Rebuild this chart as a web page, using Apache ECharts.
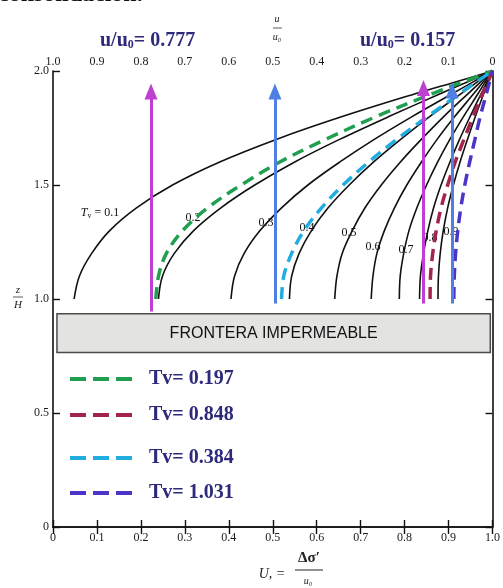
<!DOCTYPE html>
<html>
<head>
<meta charset="utf-8">
<script src="https://cdn.jsdelivr.net/npm/echarts@6/dist/echarts.min.js"></script>
<style>
  html, body { margin: 0; padding: 0; background: #fff; }
  #main { width: 503px; height: 588px; }
</style>
</head>
<body>
<div id="main"></div>
<script>
// z/H levels (top drained boundary at 2.0)
var zH = [1.0, 1.1, 1.2, 1.3, 1.4, 1.5, 1.6, 1.7, 1.8, 1.9, 1.95, 2.0];

// isocronas Tv (negras), valores Uz
var tvNames = ['0.1', '0.2', '0.3', '0.4', '0.5', '0.6', '0.7', '0.8', '0.9'];
var uzT01 = [0.048, 0.060, 0.088, 0.129, 0.190, 0.272, 0.378, 0.508, 0.658, 0.824, 0.912, 1.0];
var uzT02 = [0.240, 0.249, 0.276, 0.320, 0.382, 0.459, 0.549, 0.652, 0.764, 0.881, 0.940, 1.0];
var uzT03 = [0.405, 0.413, 0.435, 0.471, 0.520, 0.580, 0.652, 0.731, 0.817, 0.908, 0.954, 1.0];
var uzT04 = [0.538, 0.543, 0.560, 0.588, 0.626, 0.674, 0.729, 0.791, 0.857, 0.928, 0.964, 1.0];
var uzT05 = [0.641, 0.646, 0.658, 0.681, 0.710, 0.747, 0.790, 0.838, 0.889, 0.944, 0.972, 1.0];
var uzT06 = [0.724, 0.728, 0.737, 0.754, 0.777, 0.805, 0.838, 0.874, 0.914, 0.957, 0.978, 1.0];
var uzT07 = [0.788, 0.790, 0.798, 0.810, 0.828, 0.850, 0.875, 0.903, 0.934, 0.967, 0.983, 1.0];
var uzT08 = [0.834, 0.836, 0.843, 0.853, 0.866, 0.883, 0.903, 0.925, 0.949, 0.974, 0.987, 1.0];
var uzT09 = [0.876, 0.877, 0.881, 0.888, 0.898, 0.911, 0.926, 0.943, 0.961, 0.980, 0.990, 1.0];

// isocronas a trazos (leyenda)
var dashNames = ['Tv= 0.197', 'Tv= 0.848', 'Tv= 0.384', 'Tv= 1.031'];
var uzD0197 = [0.234, 0.240, 0.258, 0.295, 0.352, 0.428, 0.515, 0.620, 0.735, 0.862, 0.930, 1.0];
var uzD0848 = [0.858, 0.859, 0.864, 0.872, 0.883, 0.898, 0.915, 0.935, 0.956, 0.977, 0.989, 1.0];
var uzD0384 = [0.520, 0.525, 0.543, 0.571, 0.611, 0.660, 0.718, 0.782, 0.852, 0.925, 0.962, 1.0];
var uzD1031 = [0.912, 0.913, 0.916, 0.921, 0.928, 0.937, 0.948, 0.960, 0.972, 0.986, 0.993, 1.0];

// flechas (posicion en Uz, base y punta en z/H)
var arrowUz = [0.223, 0.505, 0.843, 0.908];
var arrowFrom = [0.945, 0.98, 0.98, 0.98];
var arrowTo = [1.91, 1.91, 1.925, 1.915];

// etiquetas de ejes
var bottomLabels = ['0', '0.1', '0.2', '0.3', '0.4', '0.5', '0.6', '0.7', '0.8', '0.9', '1.0'];
var topLabels = ['1.0', '0.9', '0.8', '0.7', '0.6', '0.5', '0.4', '0.3', '0.2', '0.1', '0'];
var yLabels = ['0', '0.5', '1.0', '1.5', '2.0'];

var chart = echarts.init(document.getElementById('main'));

function pts(uz) {
  return uz.map(function (v, i) { return [v, zH[i]]; });
}

var blackSets = [uzT01, uzT02, uzT03, uzT04, uzT05, uzT06, uzT07, uzT08, uzT09];
var dashSets = [uzD0197, uzD0848, uzD0384, uzD1031];
var dashColors = ['#1f9f4f', '#a3244f', '#22ade0', '#4a35c8'];
var arrowColors = ['#bf3fd3', '#4f7fe2', '#bf3fd3', '#4f7fe2'];

var series = [];
blackSets.forEach(function (s, i) {
  series.push({
    name: 'T' + tvNames[i],
    type: 'line',
    data: pts(s),
    symbol: 'none',
    smooth: 0.35,
    lineStyle: { color: '#111', width: 1.6 },
    silent: true
  });
});
dashSets.forEach(function (s, i) {
  series.push({
    name: dashNames[i],
    type: 'line',
    data: pts(s),
    symbol: 'none',
    smooth: 0.35,
    itemStyle: { color: dashColors[i] },
    lineStyle: { color: dashColors[i], width: 3.5, type: [12, 7] },
    silent: true
  });
});

// flechas + caja de frontera
series.push({
  name: 'marcas',
  type: 'line',
  data: [],
  silent: true,
  markLine: {
    symbol: ['none', 'triangle'],
    symbolSize: [13, 16],
    label: { show: false },
    animation: false,
    data: arrowUz.map(function (x, i) {
      return [
        { coord: [x, arrowFrom[i]], lineStyle: { color: arrowColors[i], width: 3, type: 'solid' }, itemStyle: { color: arrowColors[i] } },
        { coord: [x, arrowTo[i]] }
      ];
    })
  },
  markArea: {
    silent: true,
    itemStyle: { color: '#e3e3e1', borderColor: '#4a4a4a', borderWidth: 1.5 },
    label: {
      show: true, position: 'inside', color: '#111',
      fontFamily: 'Liberation Sans', fontSize: 16,
      formatter: 'FRONTERA IMPERMEABLE'
    },
    data: [[{ coord: [0.009, 0.935] }, { coord: [0.995, 0.765] }]]
  }
});

var legendTops = [369, 405, 448, 483];
var legends = dashNames.map(function (n, i) {
  return {
    data: [n],
    left: 68,
    top: legendTops[i],
    padding: 0,
    itemWidth: 62,
    itemHeight: 14,
    selectedMode: false,
    itemStyle: { opacity: 0 },
    lineStyle: { width: 4, type: [16, 7] },
    textStyle: {
      color: '#2d2a7b', fontFamily: 'Liberation Serif', fontWeight: 'bold',
      fontSize: 20, padding: [0, 0, 0, 12]
    }
  };
});

var axisFont = { color: '#1a1a1a', fontFamily: 'Liberation Serif', fontSize: 12 };
var axLine = { show: true, lineStyle: { color: '#111', width: 1.6 } };
var axTick = { show: true, inside: true, length: 7, lineStyle: { color: '#111', width: 1.4 } };

var navy = '#2d2a7b';
var option = {
  animation: false,
  backgroundColor: '#fff',
  legend: legends,
  grid: { left: 53, right: 6, top: 71, bottom: 61 },
  xAxis: [
    {
      type: 'value', position: 'bottom', min: 0, max: 1, interval: 0.1,
      axisLine: axLine, axisTick: axTick, splitLine: { show: false },
      axisLabel: Object.assign({ margin: 5, formatter: function (v) { return bottomLabels[Math.round(v * 10)]; } }, axisFont)
    },
    {
      type: 'value', position: 'top', min: 0, max: 1, interval: 0.1, inverse: true,
      axisLine: axLine, axisTick: axTick, splitLine: { show: false },
      axisLabel: Object.assign({ margin: 3, formatter: function (v) { return topLabels[Math.round((1 - v) * 10)]; } }, axisFont)
    }
  ],
  yAxis: [
    {
      type: 'value', position: 'left', min: 0, max: 2, interval: 0.5,
      axisLine: axLine, axisTick: axTick, splitLine: { show: false },
      axisLabel: Object.assign({ margin: 4, formatter: function (v) { return yLabels[Math.round(v * 2)]; } }, axisFont)
    },
    {
      type: 'value', position: 'right', min: 0, max: 2, interval: 0.5,
      axisLine: axLine, axisTick: axTick, splitLine: { show: false },
      axisLabel: { show: false }
    }
  ],
  graphic: [
    // titulo cortado
    { type: 'text', left: -2, top: -17, style: { text: 'consolidación.', font: 'bold 24px "Liberation Serif"', fill: '#111' } },
    // valores u/u0
    { type: 'text', left: 100, top: 31, style: { text: 'u/u{s|0}= 0.777', font: 'bold 20px "Liberation Serif"', fill: navy,
        rich: { s: { font: 'bold 12px "Liberation Serif"', fill: navy, padding: [8, 0, 0, 0] } } } },
    { type: 'text', left: 360, top: 31, style: { text: 'u/u{s|0}= 0.157', font: 'bold 20px "Liberation Serif"', fill: navy,
        rich: { s: { font: 'bold 12px "Liberation Serif"', fill: navy, padding: [8, 0, 0, 0] } } } },
    // u/u0 titulo eje superior
    { type: 'text', x: 277, y: 19, style: { text: 'u', font: 'italic 10px "Liberation Serif"', fill: '#222', align: 'center', verticalAlign: 'middle' } },
    { type: 'line', shape: { x1: 273, y1: 28, x2: 282, y2: 28 }, style: { stroke: '#333', lineWidth: 0.8 } },
    { type: 'text', x: 277, y: 37, style: { text: 'u₀', font: 'italic 10px "Liberation Serif"', fill: '#222', align: 'center', verticalAlign: 'middle' } },
    // z/H
    { type: 'text', x: 18, y: 290, style: { text: 'z', font: 'italic 11px "Liberation Serif"', fill: '#222', align: 'center', verticalAlign: 'middle' } },
    { type: 'line', shape: { x1: 13, y1: 297, x2: 23, y2: 297 }, style: { stroke: '#333', lineWidth: 0.8 } },
    { type: 'text', x: 18, y: 305, style: { text: 'H', font: 'italic 11px "Liberation Serif"', fill: '#222', align: 'center', verticalAlign: 'middle' } },
    // Uz = dsigma'/u0
    { type: 'text', x: 272, y: 574, style: { text: 'U, =', font: 'italic 14px "Liberation Serif"', fill: '#222', align: 'center', verticalAlign: 'middle' } },
    { type: 'text', x: 309, y: 558, style: { text: 'Δσ′', font: 'bold 15px "Liberation Serif"', fill: '#222', align: 'center', verticalAlign: 'middle' } },
    { type: 'line', shape: { x1: 295, y1: 570, x2: 323, y2: 570 }, style: { stroke: '#222', lineWidth: 1 } },
    { type: 'text', x: 308, y: 581, style: { text: 'u₀', font: 'italic 10px "Liberation Serif"', fill: '#222', align: 'center', verticalAlign: 'middle' } },
    // etiquetas de isocronas
    { type: 'text', x: 100, y: 213, style: { text: '{i|T}{s|v} = 0.1', font: '12px "Liberation Serif"', fill: '#111', align: 'center', verticalAlign: 'middle',
        rich: { i: { font: 'italic 12px "Liberation Serif"', fill: '#111' }, s: { font: '8px "Liberation Serif"', fill: '#111', padding: [5, 0, 0, 0] } } } },
    { type: 'text', x: 193, y: 218, style: { text: '0.2', font: '12px "Liberation Serif"', fill: '#111', align: 'center', verticalAlign: 'middle' } },
    { type: 'text', x: 266, y: 223, style: { text: '0.3', font: '12px "Liberation Serif"', fill: '#111', align: 'center', verticalAlign: 'middle' } },
    { type: 'text', x: 307, y: 228, style: { text: '0.4', font: '12px "Liberation Serif"', fill: '#111', align: 'center', verticalAlign: 'middle' } },
    { type: 'text', x: 349, y: 233, style: { text: '0.5', font: '12px "Liberation Serif"', fill: '#111', align: 'center', verticalAlign: 'middle' } },
    { type: 'text', x: 373, y: 247, style: { text: '0.6', font: '12px "Liberation Serif"', fill: '#111', align: 'center', verticalAlign: 'middle' } },
    { type: 'text', x: 406, y: 250, style: { text: '0.7', font: '12px "Liberation Serif"', fill: '#111', align: 'center', verticalAlign: 'middle' } },
    { type: 'text', x: 430, y: 238, style: { text: '0.8', font: '12px "Liberation Serif"', fill: '#111', align: 'center', verticalAlign: 'middle' } },
    { type: 'text', x: 451, y: 232, style: { text: '0.9', font: '12px "Liberation Serif"', fill: '#111', align: 'center', verticalAlign: 'middle' } }
  ],
  series: series
};

chart.setOption(option);
</script>
</body>
</html>
